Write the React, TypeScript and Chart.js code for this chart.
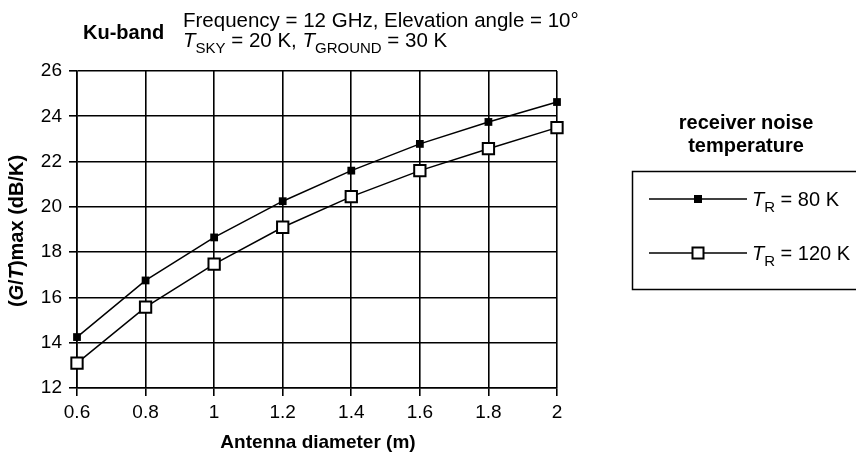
import React, { useEffect, useRef } from "react";
import { Chart, registerables } from "chart.js";

Chart.register(...registerables);

const diameters = [0.6, 0.8, 1.0, 1.2, 1.4, 1.6, 1.8, 2.0];
const gtTR80 = [14.25, 16.75, 18.65, 20.25, 21.6, 22.78, 23.75, 24.63];
const gtTR120 = [13.1, 15.57, 17.47, 19.1, 20.45, 21.6, 22.57, 23.5];
const yTicks = [12, 14, 16, 18, 20, 22, 24, 26];
const xTicks = [0.6, 0.8, 1, 1.2, 1.4, 1.6, 1.8, 2];

const FF = '"Liberation Sans", Arial, Helvetica, sans-serif';

type Part = { t: string; font: string; dy?: number };

function drawRich(ctx: CanvasRenderingContext2D, parts: Part[], x: number, y: number, align: "left" | "center" = "left") {
  let total = 0;
  for (const p of parts) {
    ctx.font = p.font;
    total += ctx.measureText(p.t).width;
  }
  let cx = align === "center" ? x - total / 2 : x;
  ctx.textAlign = "left";
  for (const p of parts) {
    ctx.font = p.font;
    ctx.fillText(p.t, cx, y + (p.dy || 0));
    cx += ctx.measureText(p.t).width;
  }
}

const annotations = {
  id: "annotations",
  afterDraw(chart: any) {
    const ctx: CanvasRenderingContext2D = chart.ctx;
    ctx.save();
    ctx.fillStyle = "#000";
    ctx.strokeStyle = "#000";
    ctx.textBaseline = "alphabetic";
    const reg = (s: number) => `${s}px ${FF}`;
    const bold = (s: number) => `bold ${s}px ${FF}`;
    const ital = (s: number) => `italic ${s}px ${FF}`;
    const boldItal = (s: number) => `italic bold ${s}px ${FF}`;

    // Top-left titles
    drawRich(ctx, [{ t: "Ku-band", font: bold(20) }], 83, 39);
    drawRich(ctx, [{ t: "Frequency = 12 GHz, Elevation angle = 10°", font: reg(20.5) }], 183, 27);
    drawRich(
      ctx,
      [
        { t: "T", font: ital(20.5) },
        { t: "SKY", font: reg(15), dy: 6 },
        { t: " = 20 K, ", font: reg(20.5) },
        { t: "T", font: ital(20.5) },
        { t: "GROUND", font: reg(15), dy: 6 },
        { t: " = 30 K", font: reg(20.5) },
      ],
      183,
      47
    );

    // Axis titles
    drawRich(ctx, [{ t: "Antenna diameter (m)", font: bold(19) }], 318, 448, "center");
    ctx.save();
    ctx.translate(23, 231);
    ctx.rotate(-Math.PI / 2);
    drawRich(
      ctx,
      [
        { t: "(", font: bold(20) },
        { t: "G", font: boldItal(20) },
        { t: "/", font: bold(20) },
        { t: "T", font: boldItal(20) },
        { t: ")max (dB/K)", font: bold(20) },
      ],
      0,
      0,
      "center"
    );
    ctx.restore();

    // Legend
    drawRich(ctx, [{ t: "receiver noise", font: bold(20) }], 746, 129, "center");
    drawRich(ctx, [{ t: "temperature", font: bold(20) }], 746, 152, "center");
    ctx.lineWidth = 1.5;
    ctx.strokeRect(632.5, 171.5, 240, 118);

    const entries = [
      { y: 199, label: "80 K", filled: true },
      { y: 253, label: "120 K", filled: false },
    ];
    for (const e of entries) {
      ctx.beginPath();
      ctx.moveTo(649, e.y);
      ctx.lineTo(747, e.y);
      ctx.lineWidth = 1.5;
      ctx.stroke();
      if (e.filled) {
        ctx.fillStyle = "#000";
        ctx.fillRect(694, e.y - 4, 8, 8);
      } else {
        ctx.fillStyle = "#fff";
        ctx.fillRect(692.5, e.y - 5.5, 11, 11);
        ctx.lineWidth = 2;
        ctx.strokeRect(692.5, e.y - 5.5, 11, 11);
      }
      ctx.fillStyle = "#000";
      drawRich(
        ctx,
        [
          { t: "T", font: ital(20) },
          { t: "R", font: reg(15), dy: 6 },
          { t: " = " + e.label, font: reg(20) },
        ],
        752,
        e.y + 7
      );
    }
    ctx.restore();
  },
};

export default function App() {
  const ref = useRef<HTMLCanvasElement | null>(null);
  useEffect(() => {
    document.body.style.margin = "0";
    const canvas = ref.current;
    if (!canvas) return;
    const chart = new Chart(canvas, {
      type: "line",
      data: {
        datasets: [
          {
            label: "TR = 80 K",
            data: diameters.map((d, i) => ({ x: d, y: gtTR80[i] })),
            borderColor: "#000",
            backgroundColor: "#000",
            borderWidth: 1.5,
            pointStyle: "rect",
            pointRadius: 5.5,
            pointBorderWidth: 0,
            pointBackgroundColor: "#000",
            tension: 0,
            clip: false,
          },
          {
            label: "TR = 120 K",
            data: diameters.map((d, i) => ({ x: d, y: gtTR120[i] })),
            borderColor: "#000",
            backgroundColor: "#fff",
            borderWidth: 1.5,
            pointStyle: "rect",
            pointRadius: 8,
            pointBorderWidth: 2,
            pointBackgroundColor: "#fff",
            pointBorderColor: "#000",
            tension: 0,
            clip: false,
          },
        ],
      },
      options: {
        responsive: false,
        animation: false,
        layout: { padding: { left: 0, right: 299, top: 71, bottom: 0 } },
        plugins: { legend: { display: false }, tooltip: { enabled: false } },
        scales: {
          x: {
            type: "linear",
            min: 0.6,
            max: 2,
            afterBuildTicks: (scale: any) => {
              scale.ticks = xTicks.map((v) => ({ value: v }));
            },
            afterFit: (scale: any) => {
              scale.height = 67;
            },
            ticks: {
              color: "#000",
              font: { family: FF, size: 19 },
              padding: 5,
              maxRotation: 0,
              autoSkip: false,
              callback: (v: any) => String(Math.round(Number(v) * 10) / 10),
            },
            grid: { color: "#000", lineWidth: 1.6, tickLength: 8, drawTicks: true },
            border: { color: "#000", width: 1.6 },
          },
          y: {
            type: "linear",
            min: 12,
            max: 26,
            afterBuildTicks: (scale: any) => {
              scale.ticks = yTicks.map((v) => ({ value: v }));
            },
            afterFit: (scale: any) => {
              scale.width = 77;
            },
            ticks: {
              color: "#000",
              font: { family: FF, size: 19 },
              padding: 7,
              autoSkip: false,
            },
            grid: { color: "#000", lineWidth: 1.6, tickLength: 8, drawTicks: true },
            border: { color: "#000", width: 1.6 },
          },
        },
      },
      plugins: [annotations],
    } as any);
    return () => chart.destroy();
  }, []);
  return (
    <div style={{ width: 856, height: 455, position: "relative", background: "#fff" }}>
      <canvas ref={ref} width={856} height={455} style={{ display: "block" }} />
    </div>
  );
}
